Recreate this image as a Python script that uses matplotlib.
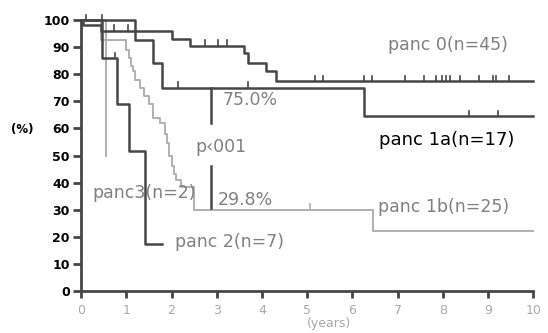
import matplotlib
matplotlib.use("Agg")
import matplotlib.pyplot as plt

plt.rcParams['font.family'] = ['DejaVu Sans']

# Kaplan-Meier step data (years, % survival)
p0_t = [0, 0.05, 0.45, 2.0, 2.4, 3.6, 3.7, 4.1, 4.3, 10]
p0_s = [100, 98, 96, 93, 90.5, 88, 84, 81, 77.5, 77.5]
p0_cens_t = [0.73, 1.04, 2.74, 3.03, 3.23, 5.18, 5.35, 6.26, 6.44, 7.17, 7.59,
             7.85, 7.99, 8.08, 8.16, 8.39, 8.81, 9.12, 9.18, 9.47]

p1a_t = [0, 1.19, 1.6, 1.8, 6.25, 10]
p1a_s = [100, 92.6, 84, 75, 64.5, 64.5]
p1a_cens_t = [0.1, 0.46, 2.14, 3.7, 8.58, 9.23]

p1b_t = [0, 0.45, 1.0, 1.05, 1.1, 1.15, 1.2, 1.3, 1.4, 1.5, 1.6, 1.75, 1.85,
         1.9, 1.95, 2.0, 2.05, 2.1, 2.2, 2.5, 6.45, 10]
p1b_s = [100, 92.6, 89, 86, 83, 81, 78, 75, 72, 69, 64, 62, 58, 54.6, 50, 46,
         43, 41, 38.4, 30, 22, 22]
p1b_cens_t = [5.07]

p2_t = [0, 0.46, 0.8, 1.05, 1.42, 1.8]
p2_s = [100, 86, 69, 51.7, 17.5, 17.5]
p2_cens_t = [0.75]

p3_t = [0, 0.55]
p3_s = [100, 50]

dark = '#464646'
light = '#b0b0b0'
txt_grey = '#808080'


def km(ax, t, s, color, lw, cens=None):
    ax.step(t, s, where='post', color=color, lw=lw, clip_on=False)
    if cens:
        for c in cens:
            # level of the curve at the censor time
            lvl = s[0]
            for i in range(len(t)):
                if t[i] <= c:
                    lvl = s[i]
            ax.plot([c, c], [lvl, lvl + 2], color=color, lw=1.2, clip_on=False)


fig = plt.figure(figsize=(5.48, 3.33), dpi=100)
ax = fig.add_axes([0.148, 0.126, 0.825, 0.814])

km(ax, p1b_t, p1b_s, light, 1.4, p1b_cens_t)
km(ax, p3_t, p3_s, light, 1.4)
km(ax, p0_t, p0_s, dark, 1.8, p0_cens_t)
km(ax, p1a_t, p1a_s, dark, 1.8, p1a_cens_t)
km(ax, p2_t, p2_s, dark, 1.8, p2_cens_t)

# marker lines at 3 years
ax.plot([2.88, 2.88], [75, 62], color=dark, lw=1.8)
ax.plot([2.88, 2.88], [46, 30.5], color=dark, lw=1.8)

fs = 12.5
ax.text(3.12, 70.5, '75.0%', color=txt_grey, fontsize=fs, va='center')
ax.text(2.52, 53, 'p‹001', color=txt_grey, fontsize=fs, va='center')
ax.text(3.03, 33.5, '29.8%', color=txt_grey, fontsize=fs, va='center')
ax.text(0.24, 36, 'panc3(n=2)', color=txt_grey, fontsize=fs, va='center')
ax.text(2.08, 18, 'panc 2(n=7)', color=txt_grey, fontsize=fs, va='center')
ax.text(6.57, 31, 'panc 1b(n=25)', color=txt_grey, fontsize=fs, va='center')
ax.text(6.59, 55.7, 'panc 1a(n=17)', color='black', fontsize=13, va='center')
ax.text(6.79, 90.8, 'panc 0(n=45)', color=txt_grey, fontsize=fs, va='center')

ax.set_xlim(0, 10)
ax.set_ylim(0, 100)
ax.set_xticks(range(0, 11))
ax.set_yticks(range(0, 101, 10))
for s in ['top', 'right']:
    ax.spines[s].set_visible(False)
for s in ['left', 'bottom']:
    ax.spines[s].set_linewidth(2)
    ax.spines[s].set_color(dark)
ax.tick_params(axis='y', direction='out', length=6, width=2, color=dark,
               labelsize=9, pad=2)
ax.tick_params(axis='x', direction='out', length=5, width=2, color=dark,
               labelsize=9, labelcolor='#a8a8a8', pad=4)
for lab in ax.get_yticklabels():
    lab.set_fontweight('bold')

fig.text(0.02, 0.61, '(%)', fontsize=8.5, fontweight='bold', va='center')
fig.text(0.6, 0.018, '(years)', fontsize=9, color='#a8a8a8', ha='center')

fig.savefig('out.png', dpi=100)
